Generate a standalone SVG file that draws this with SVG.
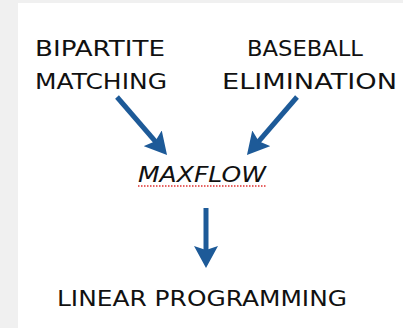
<svg xmlns="http://www.w3.org/2000/svg" width="403" height="328" viewBox="0 0 403 328">
  <style>
    .lbl { font-family: "DejaVu Sans", "Liberation Sans", sans-serif; font-size: 22px; fill: #111; }
    .it { font-style: italic; }
    .arr { stroke: #1d5a98; stroke-width: 5; fill: none; }
  </style>
  <defs>
    <marker id="head" markerUnits="userSpaceOnUse" markerWidth="22" markerHeight="24" viewBox="0 0 22 24" refX="12" refY="12" orient="auto">
      <path d="M0,0 L22,12 L0,24 L4,12 z" fill="#1d5a98"/>
    </marker>
  </defs>
  <rect x="0" y="0" width="403" height="328" fill="#f0f0f0"/>
  <rect x="18" y="3" width="385" height="325" fill="#ffffff"/>

  <g id="bipartite">
    <text class="lbl" x="35" y="56" textLength="130" lengthAdjust="spacingAndGlyphs">BIPARTITE</text>
    <text class="lbl" x="35" y="89" textLength="132" lengthAdjust="spacingAndGlyphs">MATCHING</text>
  </g>
  <g id="baseball">
    <text class="lbl" x="247" y="56" textLength="116" lengthAdjust="spacingAndGlyphs">BASEBALL</text>
    <text class="lbl" x="222" y="89" textLength="175" lengthAdjust="spacingAndGlyphs">ELIMINATION</text>
  </g>
  <g id="maxflow">
    <text class="lbl it" x="138" y="182" textLength="128" lengthAdjust="spacingAndGlyphs">MAXFLOW</text>
    <line x1="138" y1="186" x2="267" y2="186" stroke="#e03030" stroke-width="1.5" stroke-dasharray="1.5 1.5"/>
  </g>
  <g id="linear">
    <text class="lbl" x="57" y="306" textLength="290" lengthAdjust="spacingAndGlyphs">LINEAR PROGRAMMING</text>
  </g>

  <g id="connectors">
    <line class="arr" x1="117" y1="97" x2="160.5" y2="147.4" marker-end="url(#head)"/>
    <line class="arr" x1="297" y1="97" x2="253.5" y2="147.4" marker-end="url(#head)"/>
    <line class="arr" x1="206" y1="208" x2="206" y2="258" marker-end="url(#head)"/>
  </g>
</svg>
